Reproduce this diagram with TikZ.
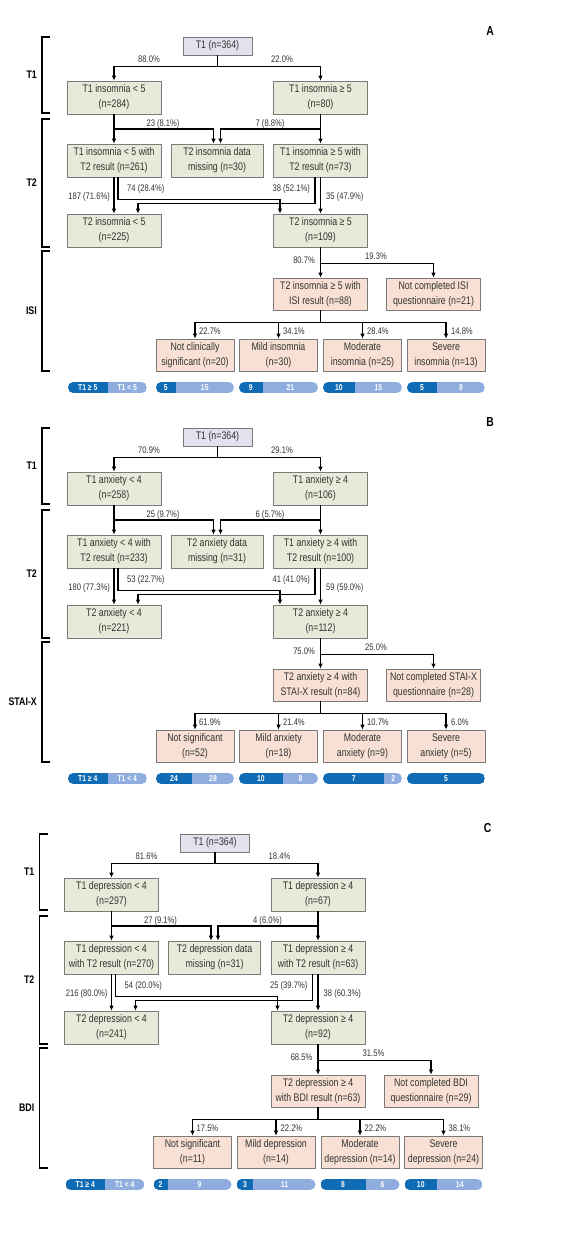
\documentclass[tikz,border=0pt]{standalone}
\usepackage{fontspec}
\setmainfont{Liberation Sans}[FakeStretch=0.8]
\usetikzlibrary{calc,arrows.meta}

\definecolor{boxgreen}{HTML}{E6EAD8}
\definecolor{boxpink}{HTML}{F8E1D4}
\definecolor{boxlav}{HTML}{E2E2EE}
\definecolor{boxline}{HTML}{7A7A7A}
\definecolor{bardark}{HTML}{0F6CB4}
\definecolor{barlight}{HTML}{8FAEDF}
\definecolor{txt}{HTML}{333333}

% pill-shaped ratio bar: x0, x1, split, left text, right text
\newcommand{\ratiobar}[5]{%
  \begin{scope}
    \clip[rounded corners=5.5pt] (#1,382) rectangle (#2,393);
    \fill[barlight] (#1,382) rectangle (#2,393);
    \fill[bardark] (#1,382) rectangle ({#3},393);
  \end{scope}
  \node[barlbl] at ({((#1)+(#3))/2},387.5) {#4};
  \node[barlbl] at ({((#3)+(#2))/2},387.5) {#5};
}

\begin{document}
\begin{tikzpicture}[
    x=1pt, y=-1pt,
    box/.style      = {draw=boxline, line width=0.7pt,
                       minimum width=94pt, minimum height=33pt,
                       inner sep=1pt, align=center, text=txt,
                       font=\fontsize{11}{15}\selectfont},
    t1box/.style    = {box, fill=boxlav,
                       minimum width=69pt, minimum height=18pt},
    greenbox/.style = {box, fill=boxgreen},
    pinkbox/.style  = {box, fill=boxpink, minimum height=32pt},
    gradebox/.style = {pinkbox, minimum width=78pt},
    pct/.style      = {inner sep=1pt, text=txt,
                       font=\fontsize{9.5}{10}\selectfont},
    seclbl/.style   = {anchor=east, inner sep=0pt,
                       font=\fontsize{11}{12}\selectfont\bfseries},
    panellbl/.style = {font=\fontsize{13}{14}\selectfont\bfseries},
    barlbl/.style   = {text=white, inner sep=0pt,
                       font=\fontsize{8.5}{9}\selectfont\bfseries},
    brack/.style    = {line width=1.2pt},
    line/.style     = {line width=1.1pt},
    arr/.style      = {line width=1.1pt,
                       -{Latex[length=5pt,width=4.5pt]}},
    thickarr/.style = {line width=1.8pt,
                       -{Latex[length=5pt,width=4.5pt]}}
]
\path[use as bounding box, fill=white] (0,0) rectangle (565,1241);

%%%%%%%%%%%%%%%%%%%% A: insomnia
\begin{scope}
\node (labA) [panellbl] at (490,31) {A};
\draw[brack] (50,37) -| (42,113) -- (50,113);
\draw[brack] (50,119) -| (42,247) -- (50,247);
\draw[brack] (50,251) -| (42,371) -- (50,371);
\node (secA1) [seclbl] at (37,75) {T1};
\node (secA2) [seclbl] at (37,183) {T2};
\node (secA3) [seclbl] at (37,311) {ISI};

\node (t1A) [t1box] at (217.5,46) {T1 (n=364)};
\node (l1A) [greenbox] at (114,97.5) {T1 insomnia < 5\\(n=284)};
\node (r1A) [greenbox] at (320.5,97.5) {T1 insomnia ≥ 5\\(n=80)};
\node (l2A) [greenbox] at (114,160.5) {T1 insomnia < 5 with\\T2 result (n=261)};
\node (m2A) [greenbox, minimum width=92pt] at (217,160.5) {T2 insomnia data\\missing (n=30)};
\node (r2A) [greenbox] at (320.5,160.5) {T1 insomnia ≥ 5 with\\T2 result (n=73)};
\node (l3A) [greenbox] at (114,230.5) {T2 insomnia < 5\\(n=225)};
\node (r3A) [greenbox] at (320.5,230.5) {T2 insomnia ≥ 5\\(n=109)};
\node (q1A) [pinkbox] at (320.5,294) {T2 insomnia ≥ 5 with\\ISI result (n=88)};
\node (q2A) [pinkbox] at (433.5,294) {Not completed ISI\\questionnaire (n=21)};
\node (g1A) [gradebox] at (195,355) {Not clinically\\significant (n=20)};
\node (g2A) [gradebox] at (278.5,355) {Mild insomnia\\(n=30)};
\node (g3A) [gradebox] at (362.5,355) {Moderate\\insomnia (n=25)};
\node (g4A) [gradebox] at (446,355) {Severe\\insomnia (n=13)};

\draw[line] (t1A.south) -- ++(0,11) coordinate (k1A);
\draw[arr] (k1A) -| (l1A);
\draw[arr] (k1A) -| (r1A);
\draw[arr] (l1A) -- (l2A);
\draw[arr] ($(l1A.south)!.5!(l2A.north)$) -| ([xshift=-3.5pt]m2A.north);
\draw[arr] (r1A) -- (r2A);
\draw[arr] ($(r1A.south)!.5!(r2A.north)$) -| ([xshift=3.5pt]m2A.north);
\draw[thickarr] (l2A) -- (l3A);
\draw[arr] ([xshift=4pt]l2A.south) -- ++(0,22) -| ([xshift=-40.5pt]r3A.north);
\draw[arr] ([xshift=-5.5pt]r2A.south) -- ++(0,26) -| ([xshift=24pt]l3A.north);
\draw[thickarr] (r2A) -- (r3A);
\draw[line] (r3A.south) -- ++(0,16) coordinate (k2A);
\draw[arr] (k2A) -- (q1A);
\draw[arr] (k2A) -| (q2A);
\draw[line] (q1A.south) -- ++(0,12) coordinate (k3A);
\foreach \g in {g1A,g2A,g3A,g4A}
  \draw[arr] (k3A) -| (\g);

\node (pA1) [pct] at (149,59) {88.0\%};
\node (pA2) [pct] at (282,59) {22.0\%};
\node (pA3) [pct] at (163,124) {23 (8.1\%)};
\node (pA4) [pct] at (270,124) {7 (8.8\%)};
\node (pA5) [pct, anchor=east] at (111,197) {187 (71.6\%)};
\node (pA6) [pct, anchor=west] at (126,189) {74 (28.4\%)};
\node (pA7) [pct, anchor=east] at (311,189) {38 (52.1\%)};
\node (pA8) [pct, anchor=west] at (325,197) {35 (47.9\%)};
\node (pA9) [pct, anchor=east] at (316,260) {80.7\%};
\node (pA10) [pct] at (376,256) {19.3\%};
\node (pA11) [pct, anchor=west] at (198,331) {22.7\%};
\node (pA12) [pct, anchor=west] at (282,331) {34.1\%};
\node (pA13) [pct, anchor=west] at (366,331) {28.4\%};
\node (pA14) [pct, anchor=west] at (450,331) {14.8\%};

\ratiobar{68}{147}{107.5}{T1 ≥ 5}{T1 < 5}
\ratiobar{156}{234}{156+78*5/20}{5}{15}
\ratiobar{239}{318}{239+79*9/30}{9}{21}
\ratiobar{323}{402}{323+79*10/25}{10}{15}
\ratiobar{407}{485}{407+78*5/13}{5}{8}
\end{scope}

%%%%%%%%%%%%%%%%%%%% B: anxiety
\begin{scope}[shift={(0,391)}]
\node (labB) [panellbl] at (490,31) {B};
\draw[brack] (50,37) -| (42,113) -- (50,113);
\draw[brack] (50,119) -| (42,247) -- (50,247);
\draw[brack] (50,251) -| (42,371) -- (50,371);
\node (secB1) [seclbl] at (37,75) {T1};
\node (secB2) [seclbl] at (37,183) {T2};
\node (secB3) [seclbl] at (37,311) {STAI-X};

\node (t1B) [t1box] at (217.5,46) {T1 (n=364)};
\node (l1B) [greenbox] at (114,97.5) {T1 anxiety < 4\\(n=258)};
\node (r1B) [greenbox] at (320.5,97.5) {T1 anxiety ≥ 4\\(n=106)};
\node (l2B) [greenbox] at (114,160.5) {T1 anxiety < 4 with\\T2 result (n=233)};
\node (m2B) [greenbox, minimum width=92pt] at (217,160.5) {T2 anxiety data\\missing (n=31)};
\node (r2B) [greenbox] at (320.5,160.5) {T1 anxiety ≥ 4 with\\T2 result (n=100)};
\node (l3B) [greenbox] at (114,230.5) {T2 anxiety < 4\\(n=221)};
\node (r3B) [greenbox] at (320.5,230.5) {T2 anxiety ≥ 4\\(n=112)};
\node (q1B) [pinkbox] at (320.5,294) {T2 anxiety ≥ 4 with\\STAI-X result (n=84)};
\node (q2B) [pinkbox] at (433.5,294) {Not completed STAI-X\\questionnaire (n=28)};
\node (g1B) [gradebox] at (195,355) {Not significant\\(n=52)};
\node (g2B) [gradebox] at (278.5,355) {Mild anxiety\\(n=18)};
\node (g3B) [gradebox] at (362.5,355) {Moderate\\anxiety (n=9)};
\node (g4B) [gradebox] at (446,355) {Severe\\anxiety (n=5)};

\draw[line] (t1B.south) -- ++(0,11) coordinate (k1B);
\draw[arr] (k1B) -| (l1B);
\draw[arr] (k1B) -| (r1B);
\draw[arr] (l1B) -- (l2B);
\draw[arr] ($(l1B.south)!.5!(l2B.north)$) -| ([xshift=-3.5pt]m2B.north);
\draw[arr] (r1B) -- (r2B);
\draw[arr] ($(r1B.south)!.5!(r2B.north)$) -| ([xshift=3.5pt]m2B.north);
\draw[thickarr] (l2B) -- (l3B);
\draw[arr] ([xshift=4pt]l2B.south) -- ++(0,22) -| ([xshift=-40.5pt]r3B.north);
\draw[arr] ([xshift=-5.5pt]r2B.south) -- ++(0,26) -| ([xshift=24pt]l3B.north);
\draw[thickarr] (r2B) -- (r3B);
\draw[line] (r3B.south) -- ++(0,16) coordinate (k2B);
\draw[arr] (k2B) -- (q1B);
\draw[arr] (k2B) -| (q2B);
\draw[line] (q1B.south) -- ++(0,12) coordinate (k3B);
\foreach \g in {g1B,g2B,g3B,g4B}
  \draw[arr] (k3B) -| (\g);

\node (pB1) [pct] at (149,59) {70.9\%};
\node (pB2) [pct] at (282,59) {29.1\%};
\node (pB3) [pct] at (163,124) {25 (9.7\%)};
\node (pB4) [pct] at (270,124) {6 (5.7\%)};
\node (pB5) [pct, anchor=east] at (111,197) {180 (77.3\%)};
\node (pB6) [pct, anchor=west] at (126,189) {53 (22.7\%)};
\node (pB7) [pct, anchor=east] at (311,189) {41 (41.0\%)};
\node (pB8) [pct, anchor=west] at (325,197) {59 (59.0\%)};
\node (pB9) [pct, anchor=east] at (316,260) {75.0\%};
\node (pB10) [pct] at (376,256) {25.0\%};
\node (pB11) [pct, anchor=west] at (198,331) {61.9\%};
\node (pB12) [pct, anchor=west] at (282,331) {21.4\%};
\node (pB13) [pct, anchor=west] at (366,331) {10.7\%};
\node (pB14) [pct, anchor=west] at (450,331) {6.0\%};

\ratiobar{68}{147}{107.5}{T1 ≥ 4}{T1 < 4}
\ratiobar{156}{234}{156+78*24/52}{24}{28}
\ratiobar{239}{318}{239+79*10/18}{10}{8}
\ratiobar{323}{402}{323+79*7/9}{7}{2}
\ratiobar{407}{485}{485}{5}{}
\end{scope}

%%%%%%%%%%%%%%%%%%%% C: depression
\begin{scope}[shift={(-2.5,797)}]
\node (labC) [panellbl] at (490,31) {C};
\draw[brack] (50,37) -| (42,113) -- (50,113);
\draw[brack] (50,119) -| (42,247) -- (50,247);
\draw[brack] (50,251) -| (42,371) -- (50,371);
\node (secC1) [seclbl] at (37,75) {T1};
\node (secC2) [seclbl] at (37,183) {T2};
\node (secC3) [seclbl] at (37,311) {BDI};

\node (t1C) [t1box] at (217.5,46) {T1 (n=364)};
\node (l1C) [greenbox] at (114,97.5) {T1 depression < 4\\(n=297)};
\node (r1C) [greenbox] at (320.5,97.5) {T1 depression ≥ 4\\(n=67)};
\node (l2C) [greenbox] at (114,160.5) {T1 depression < 4\\with T2 result (n=270)};
\node (m2C) [greenbox, minimum width=92pt] at (217,160.5) {T2 depression data\\missing (n=31)};
\node (r2C) [greenbox] at (320.5,160.5) {T1 depression ≥ 4\\with T2 result (n=63)};
\node (l3C) [greenbox] at (114,230.5) {T2 depression < 4\\(n=241)};
\node (r3C) [greenbox] at (320.5,230.5) {T2 depression ≥ 4\\(n=92)};
\node (q1C) [pinkbox] at (320.5,294) {T2 depression ≥ 4\\with BDI result (n=63)};
\node (q2C) [pinkbox] at (433.5,294) {Not completed BDI\\questionnaire (n=29)};
\node (g1C) [gradebox] at (195,355) {Not significant\\(n=11)};
\node (g2C) [gradebox] at (278.5,355) {Mild depression\\(n=14)};
\node (g3C) [gradebox] at (362.5,355) {Moderate\\depression (n=14)};
\node (g4C) [gradebox] at (446,355) {Severe\\depression (n=24)};

\draw[line] (t1C.south) -- ++(0,11) coordinate (k1C);
\draw[arr] (k1C) -| (l1C);
\draw[arr] (k1C) -| (r1C);
\draw[arr] (l1C) -- (l2C);
\draw[arr] ($(l1C.south)!.5!(l2C.north)$) -| ([xshift=-3.5pt]m2C.north);
\draw[arr] (r1C) -- (r2C);
\draw[arr] ($(r1C.south)!.5!(r2C.north)$) -| ([xshift=3.5pt]m2C.north);
\draw[thickarr] (l2C) -- (l3C);
\draw[arr] ([xshift=4pt]l2C.south) -- ++(0,22) -| ([xshift=-40.5pt]r3C.north);
\draw[arr] ([xshift=-5.5pt]r2C.south) -- ++(0,26) -| ([xshift=24pt]l3C.north);
\draw[thickarr] (r2C) -- (r3C);
\draw[line] (r3C.south) -- ++(0,16) coordinate (k2C);
\draw[arr] (k2C) -- (q1C);
\draw[arr] (k2C) -| (q2C);
\draw[line] (q1C.south) -- ++(0,12) coordinate (k3C);
\foreach \g in {g1C,g2C,g3C,g4C}
  \draw[arr] (k3C) -| (\g);

\node (pC1) [pct] at (149,59) {81.6\%};
\node (pC2) [pct] at (282,59) {18.4\%};
\node (pC3) [pct] at (163,124) {27 (9.1\%)};
\node (pC4) [pct] at (270,124) {4 (6.0\%)};
\node (pC5) [pct, anchor=east] at (111,197) {216 (80.0\%)};
\node (pC6) [pct, anchor=west] at (126,189) {54 (20.0\%)};
\node (pC7) [pct, anchor=east] at (311,189) {25 (39.7\%)};
\node (pC8) [pct, anchor=west] at (325,197) {38 (60.3\%)};
\node (pC9) [pct, anchor=east] at (316,260) {68.5\%};
\node (pC10) [pct] at (376,256) {31.5\%};
\node (pC11) [pct, anchor=west] at (198,331) {17.5\%};
\node (pC12) [pct, anchor=west] at (282,331) {22.2\%};
\node (pC13) [pct, anchor=west] at (366,331) {22.2\%};
\node (pC14) [pct, anchor=west] at (450,331) {38.1\%};

\ratiobar{68}{147}{107.5}{T1 ≥ 4}{T1 < 4}
\ratiobar{156}{234}{156+78*2/11}{2}{9}
\ratiobar{239}{318}{239+79*3/14}{3}{11}
\ratiobar{323}{402}{323+79*8/14}{8}{6}
\ratiobar{407}{485}{407+78*10/24}{10}{14}
\end{scope}
\end{tikzpicture}
\end{document}
